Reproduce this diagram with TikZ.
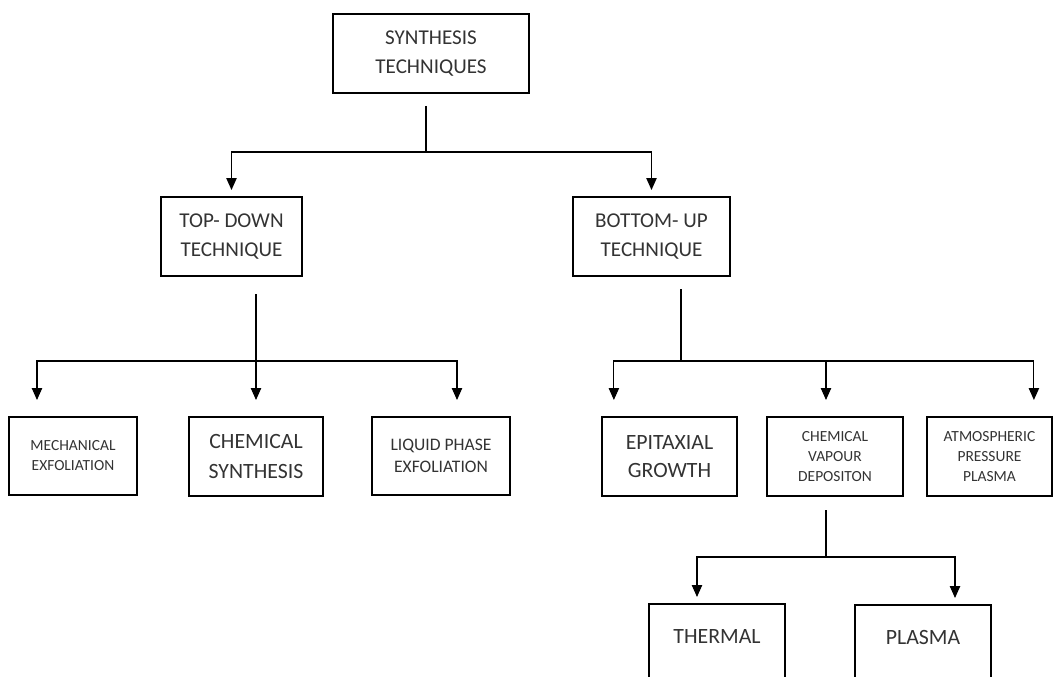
\documentclass[tikz,border=0pt]{standalone}
\usepackage{fontspec}
\setmainfont{Carlito}
\usetikzlibrary{arrows.meta, positioning}

\begin{document}
\begin{tikzpicture}[x=0.025cm, y=-0.025cm,
  box/.style={draw, line width=1.4pt, align=center, text=black!80, inner sep=0pt},
  tallbox/.style={box, anchor=north, text height=0.975cm, text depth=2.2cm},
  conn/.style={line width=0.8pt},
  arr/.style={conn, -{Triangle[length=0.3cm, width=0.26cm]}}]

  \useasboundingbox (0,0) rectangle (1054,677);
  \clip (0,0) rectangle (1054,677);

  \node[box, minimum width=4.9cm, minimum height=1.975cm, font=\fontsize{15}{20}\selectfont] (synth) at (431,53.5) {SYNTHESIS\\TECHNIQUES};

  \node[box, minimum width=3.525cm, minimum height=1.975cm, font=\fontsize{15}{20.5}\selectfont] (td) at (231.5,236.5) {TOP- DOWN\\TECHNIQUE};
  \node[box, minimum width=3.925cm, minimum height=1.975cm, font=\fontsize{15}{20.5}\selectfont] (bu) at (651.5,236.5) {BOTTOM- UP\\TECHNIQUE};

  \node[box, minimum width=3.2cm, minimum height=1.95cm, font=\fontsize{11}{14.2}\selectfont] (mech) at (73,456) {MECHANICAL\\EXFOLIATION};
  \node[box, minimum width=3.35cm, minimum height=1.975cm, font=\fontsize{15.5}{21.3}\selectfont] (cs) at (256,456.5) {CHEMICAL\\SYNTHESIS};
  \node[box, minimum width=3.45cm, minimum height=1.95cm, font=\fontsize{12.5}{15.6}\selectfont] (lp) at (441,456) {LIQUID PHASE\\EXFOLIATION};

  \node[box, minimum width=3.375cm, minimum height=1.975cm, font=\fontsize{15.5}{19.9}\selectfont] (ep) at (669.5,456.5) {EPITAXIAL\\GROWTH};
  \node[box, minimum width=3.4cm, minimum height=1.975cm, font=\fontsize{11}{14.2}\selectfont] (cvd) at (835,456.5) {CHEMICAL\\VAPOUR\\DEPOSITON};
  \node[box, minimum width=3.125cm, minimum height=1.975cm, font=\fontsize{11}{14.2}\selectfont] (ap) at (989.5,456.5) {ATMOSPHERIC\\PRESSURE\\PLASMA};

  \node[tallbox, minimum width=3.4cm, font=\fontsize{15.5}{19}\selectfont] (th) at (717,603) {THERMAL};
  \node[tallbox, minimum width=3.4cm, font=\fontsize{15.5}{19}\selectfont] (pl) at (923,604) {PLASMA};

  \coordinate (j0) at (426,152);
  \coordinate (j1) at (256,361);
  \coordinate (j2) at (681,361);
  \coordinate (j3) at (826,557);

  \draw[conn, shorten <=0.3cm] (synth.south -| j0) -- (j0);
  \draw[arr, shorten >=0.15cm] (j0) -| (td.north);
  \draw[arr, shorten >=0.15cm] (j0) -| (bu.north);

  \draw[arr, shorten <=0.425cm, shorten >=0.4cm] (td.south -| cs.north) -- (cs.north);
  \draw[arr, shorten >=0.4cm] (j1) -| ([xshift=-0.9cm]mech.north);
  \draw[arr, shorten >=0.4cm] (j1) -| ([xshift=0.4cm]lp.north);

  \draw[conn, shorten <=0.3cm] (bu.south -| j2) -- (j2);
  \draw[arr, shorten >=0.4cm] (j2) -| ([xshift=-1.39cm]ep.north);
  \draw[arr, shorten >=0.4cm] (j2) -| ([xshift=-0.225cm]cvd.north);
  \draw[arr, shorten >=0.4cm] (j2) -| ([xshift=1.11cm]ap.north);

  \draw[conn, shorten <=0.325cm] (cvd.south -| j3) -- (j3);
  \draw[arr, shorten >=0.15cm] (j3) -| ([xshift=-0.5cm]th.north);
  \draw[arr, shorten >=0.15cm] (j3) -| ([xshift=0.8cm]pl.north);
\end{tikzpicture}
\end{document}
